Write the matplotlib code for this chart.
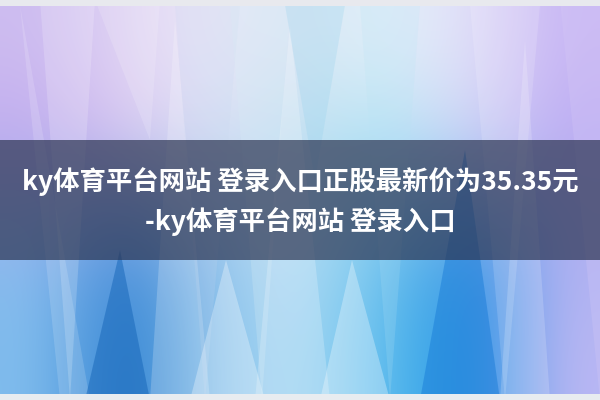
import matplotlib
matplotlib.use("Agg")
import matplotlib.pyplot as plt
import numpy as np
from matplotlib.patches import Polygon, Rectangle

plt.rcParams['font.family'] = ['Noto Sans CJK SC', 'DejaVu Sans']

# banner text
title_lines = ["ky体育平台网站 登录入口正股最新价为35.35元", "-ky体育平台网站 登录入口"]
line_y = [182, 222]

# background colour grid (rows top -> bottom, columns left -> right)
bg_rows = [
    [(205, 188, 240), (226, 214, 244), (236, 234, 248), (218, 230, 244), (226, 242, 250), (228, 224, 248), (200, 182, 244)],
    [(190, 168, 238), (220, 198, 240), (214, 224, 244), (190, 222, 240), (170, 228, 244), (210, 212, 246), (186, 170, 242)],
    [(140, 188, 238), (60, 135, 215), (155, 200, 238), (185, 222, 244), (110, 196, 238), (55, 148, 228), (178, 178, 242)],
    [(130, 190, 238), (35, 120, 205), (140, 198, 238), (170, 216, 242), (90, 190, 238), (30, 145, 228), (190, 184, 244)],
]

# faceted light/dark triangles (x list, y list, colour, alpha)
facets = [
    ([40, 95, 70], [0, 0, 400], 'white', 0.18),
    ([60, 90, 20], [400, 400, 5], 'white', 0.15),
    ([85, 150, 120], [400, 400, 250], '#1565b8', 0.5),
    ([95, 160, 150], [0, 0, 140], '#ffffff', 0.15),
    ([150, 210, 175], [400, 400, 20], 'white', 0.2),
    ([175, 240, 205], [5, 5, 400], '#c8d8f0', 0.2),
    ([190, 265, 226], [400, 400, 260], 'white', 0.3),
    ([230, 290, 262], [5, 5, 400], '#d8ecf6', 0.25),
    ([255, 330, 290], [400, 400, 25], 'white', 0.22),
    ([285, 345, 315], [5, 5, 180], '#90d0ec', 0.25),
    ([320, 390, 352], [400, 400, 260], 'white', 0.3),
    ([360, 420, 390], [5, 5, 400], '#b8e4f4', 0.2),
    ([420, 500, 465], [400, 400, 150], '#1478d6', 0.45),
    ([470, 540, 505], [5, 5, 400], 'white', 0.15),
    ([500, 550, 525], [400, 400, 40], 'white', 0.18),
    ([560, 600, 600], [0, 0, 400], '#d8ccf6', 0.25),
]

fig = plt.figure(figsize=(6, 4), dpi=100)
ax = fig.add_axes([0, 0, 1, 1])
ax.set_xlim(0, 600)
ax.set_ylim(400, 0)
ax.axis('off')

grid = np.array(bg_rows, dtype=float) / 255
ax.imshow(grid, extent=(0, 600, 400, 0), aspect='auto', interpolation='bicubic', zorder=0)

for xs, ys, c, a in facets:
    ax.add_patch(Polygon(list(zip(xs, ys)), closed=True, facecolor=c, edgecolor='none', alpha=a, zorder=1))

# light strips at top and bottom
ax.add_patch(Rectangle((0, 0), 600, 6, facecolor='#e8e9ee', edgecolor='none', zorder=2))
ax.add_patch(Rectangle((0, 394), 600, 6, facecolor='#e8ecf0', edgecolor='none', zorder=2))

# dark translucent band
ax.add_patch(Rectangle((0, 140), 600, 120, facecolor='#2c3552', edgecolor='none', alpha=0.7, zorder=3))

for txt, y in zip(title_lines, line_y):
    ax.text(300, y, txt, color='white', fontsize=19, fontweight='bold',
            ha='center', va='center', zorder=4)

fig.savefig('out.png', dpi=100)
